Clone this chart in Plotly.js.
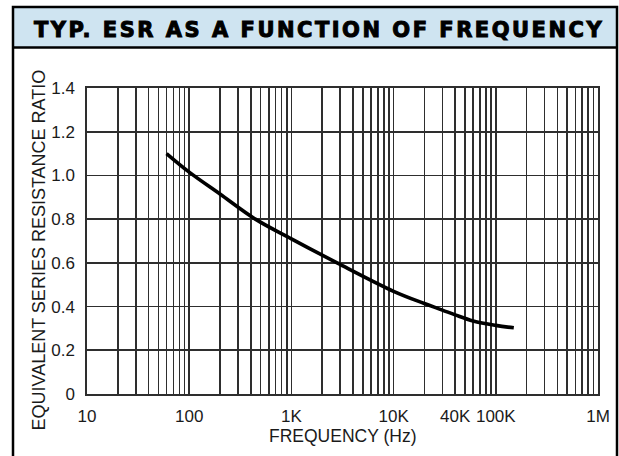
<!DOCTYPE html>
<html><head><meta charset="utf-8">
<script src="https://cdn.plot.ly/plotly-3.0.1.min.js"></script>
<style>html,body{margin:0;padding:0;background:#fff}#c{width:619px;height:456px}</style>
</head><body><div id="c"></div>
<script>
// Data
const freqHz = [60, 100, 200, 444, 1000, 2800, 10000, 20000, 30000, 40000, 60000, 100000, 150000];
const esrRatio = [1.10, 1.015, 0.915, 0.80, 0.71, 0.60, 0.47, 0.414, 0.384, 0.362, 0.334, 0.314, 0.303];
const xLabelVals = [10, 100, 1000, 10000, 40000, 100000, 1000000];
const xLabelText = ['10', '100', '1K', '10K', '40K', '100K', '1M'];
const yTickVals = [0, 0.2, 0.4, 0.6, 0.8, 1.0, 1.2, 1.4];
const yTickText = ['0', '0.2', '0.4', '0.6', '0.8', '1.0', '1.2', '1.4'];
const decades = [10, 100, 1000, 10000, 100000];
const digits = [1, 2, 3, 4, 5, 6, 7, 8, 9];

const gridVals = [];
decades.forEach(d => digits.forEach(m => gridVals.push(d * m)));
gridVals.push(1000000);
const gridText = gridVals.map(v => {
  const i = xLabelVals.findIndex(x => Math.abs(x - v) / v < 1e-9);
  return i >= 0 ? xLabelText[i] : '';
});

const W = 619, H = 456, L = 87, R = 21, T = 88, B = 62;
const pw = W - L - R, ph = H - T - B;
const px = x => (x - L) / pw;
const py = y => (H - B - y) / ph;
const FONT = "'Liberation Sans', Arial, Helvetica, sans-serif";
const INK = '#1a1a1a';
const GRID = '#2e2e2e';

const trace = {
  x: freqHz, y: esrRatio, type: 'scatter', mode: 'lines',
  line: {color: '#000', width: 3.6, shape: 'spline', smoothing: 1},
  hoverinfo: 'skip'
};

const layout = {
  width: W, height: H,
  margin: {l: L, r: R, t: T, b: B, pad: 0},
  paper_bgcolor: '#fff', plot_bgcolor: '#fff',
  showlegend: false,
  font: {family: FONT, color: INK, size: 17},
  xaxis: {
    type: 'log', range: [1, 6], tickmode: 'array', tickvals: gridVals, ticktext: gridText,
    showgrid: true, gridcolor: GRID, gridwidth: 1.6, zeroline: false,
    showline: true, mirror: true, linecolor: GRID, linewidth: 1.6,
    ticks: '', ticklabelstandoff: 6,
    tickfont: {family: FONT, size: 17, color: INK},
    fixedrange: true
  },
  yaxis: {
    range: [0, 1.4], tickmode: 'array', tickvals: yTickVals, ticktext: yTickText,
    showgrid: true, gridcolor: GRID, gridwidth: 1.6, zeroline: false,
    showline: true, mirror: true, linecolor: GRID, linewidth: 1.6,
    ticks: '', ticklabelstandoff: 7,
    tickfont: {family: FONT, size: 17, color: INK},
    fixedrange: true
  },
  shapes: [
    {type: 'rect', xref: 'paper', yref: 'paper', x0: px(13), x1: px(617), y0: py(7), y1: py(47.5),
     fillcolor: '#cfe4f1', line: {width: 0}, layer: 'below'},
    {type: 'line', xref: 'paper', yref: 'paper', x0: px(13), x1: px(617), y0: py(47.5), y1: py(47.5),
     line: {color: '#000', width: 2.5}},
    {type: 'rect', xref: 'paper', yref: 'paper', x0: px(13), x1: px(617), y0: py(7), y1: py(460),
     line: {color: '#000', width: 2.5}, fillcolor: 'rgba(0,0,0,0)'}
  ],
  annotations: [
    {xref: 'paper', yref: 'paper', x: px(318.5), y: py(30), xanchor: 'center', yanchor: 'middle',
     showarrow: false,
     text: '<span style="letter-spacing:2.5px;stroke:#000;stroke-width:1px">TYP. ESR AS A FUNCTION OF FREQUENCY</span>',
     font: {family: "'DejaVu Sans', sans-serif", size: 21, weight: 'bold', color: '#000'}},
    {xref: 'paper', yref: 'paper', x: px(38.5), y: py(250), xanchor: 'center', yanchor: 'middle',
     showarrow: false, textangle: -90, text: 'EQUIVALENT SERIES RESISTANCE RATIO',
     font: {family: FONT, size: 18, color: INK}},
    {xref: 'paper', yref: 'paper', x: px(342), y: py(436), xanchor: 'center', yanchor: 'middle',
     showarrow: false, text: 'FREQUENCY (Hz)',
     font: {family: FONT, size: 17.5, color: INK}}
  ]
};

Plotly.newPlot('c', [trace], layout, {staticPlot: true, displayModeBar: false});
</script></body></html>
